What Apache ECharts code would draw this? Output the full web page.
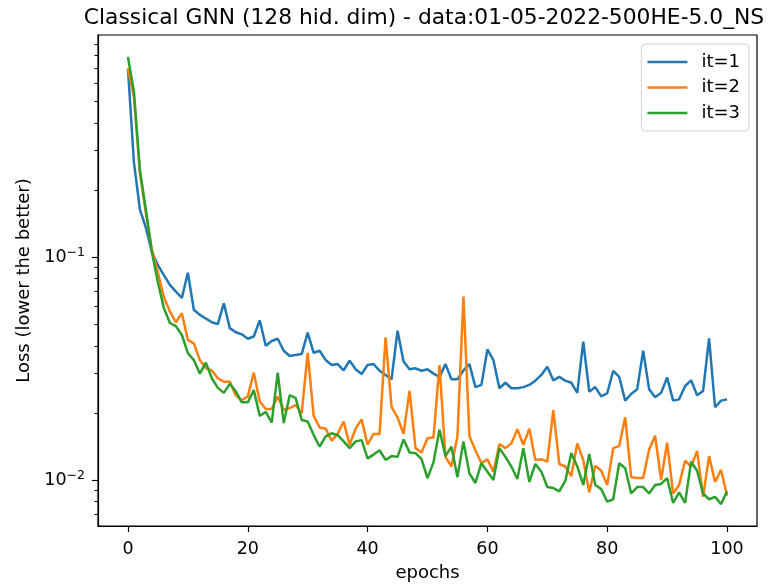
<!DOCTYPE html>
<html>
<head>
<meta charset="utf-8">
<script src="https://cdn.jsdelivr.net/npm/echarts@6/dist/echarts.min.js"></script>
<style>
html,body{margin:0;padding:0;background:#fff;}
#chart{width:778px;height:585px;}
</style>
</head>
<body>
<div id="chart"></div>
<script>
const epochs = Array.from({length:101},(_,i)=>i);
const seriesNames = ['it=1','it=2','it=3'];
const it1 = [0.70,0.265,0.163,0.135,0.105,0.092,0.083,0.075,0.070,0.0655,
0.085,0.058,0.055,0.053,0.051,0.050,0.062,0.048,0.046,0.045,
0.043,0.044,0.052,0.040,0.042,0.043,0.038,0.036,0.0364,0.0367,
0.0458,0.0372,0.038,0.0345,0.0328,0.0331,0.031,0.0343,0.0314,0.0299,
0.0328,0.0331,0.0309,0.0296,0.0283,0.0467,0.034,0.0314,0.0317,0.0309,
0.0314,0.030,0.029,0.0331,0.0283,0.0283,0.031,0.0331,0.0261,0.0267,
0.0385,0.0345,0.0258,0.0273,0.0258,0.0258,0.0261,0.0267,0.0279,0.0296,
0.0322,0.028,0.029,0.0279,0.0273,0.0246,0.0417,0.0249,0.0261,0.0237,
0.0245,0.0309,0.029,0.0227,0.0243,0.0255,0.038,0.0255,0.0235,0.0246,
0.0288,0.0227,0.023,0.0264,0.028,0.024,0.0251,0.0432,0.0212,0.0227,
0.023];
const it2 = [0.70,0.52,0.238,0.157,0.108,0.085,0.066,0.057,0.051,0.056,
0.0425,0.041,0.0345,0.0318,0.031,0.0286,0.0276,0.0276,0.024,0.0228,
0.0237,0.0303,0.0225,0.0208,0.0208,0.0237,0.0206,0.021,0.0217,0.0199,
0.0372,0.0194,0.0172,0.017,0.015,0.0161,0.0183,0.0144,0.017,0.0187,
0.0144,0.0161,0.0161,0.0436,0.0213,0.0191,0.0161,0.0251,0.0139,0.0133,
0.0154,0.0155,0.0328,0.0127,0.0115,0.0157,0.0664,0.0157,0.0136,0.0119,
0.0124,0.0109,0.0145,0.0139,0.0146,0.0169,0.0144,0.017,0.0123,0.0124,
0.0121,0.0206,0.0118,0.0115,0.0104,0.0146,0.0123,0.0088,0.0116,0.011,
0.0095,0.0139,0.0142,0.0191,0.0103,0.0102,0.0102,0.0137,0.0158,0.010,
0.0147,0.0087,0.0095,0.0122,0.0115,0.0135,0.0084,0.0128,0.0098,0.0111,
0.0085];
const it3 = [0.79,0.55,0.245,0.162,0.105,0.077,0.059,0.0506,0.049,0.0447,
0.0371,0.0345,0.030,0.0336,0.0286,0.0259,0.0246,0.027,0.025,0.0223,
0.0223,0.0253,0.0194,0.0202,0.0181,0.0303,0.018,0.024,0.0233,0.0186,
0.0183,0.0159,0.0141,0.0157,0.0162,0.0159,0.0149,0.0139,0.0149,0.0151,
0.0125,0.013,0.0136,0.0123,0.0128,0.0127,0.0152,0.0133,0.0132,0.0124,
0.0102,0.012,0.0168,0.0128,0.0141,0.0103,0.0149,0.0107,0.0097,0.0119,
0.0109,0.010,0.0139,0.0127,0.0115,0.0101,0.0139,0.0098,0.0118,0.0109,
0.0093,0.0092,0.0089,0.0099,0.0132,0.0115,0.0095,0.0131,0.0095,0.0091,
0.008,0.0082,0.0119,0.0113,0.0087,0.0093,0.0093,0.0087,0.0095,0.0096,
0.0102,0.0079,0.0088,0.0079,0.0121,0.011,0.0087,0.0082,0.0084,0.0078,
0.0089];
const xTicks = [0,20,40,60,80,100];
const yMajorTicks = [0.01,0.1];
const yMinorTicks = [0.007,0.008,0.009,0.02,0.03,0.04,0.05,0.06,0.07,0.08,0.09,0.2,0.3,0.4,0.5,0.6,0.7,0.8,0.9];
const colors = ['#1f77b4','#ff7f0e','#2ca02c'];
const FONT = 'DejaVu Sans';

const chart = echarts.init(document.getElementById('chart'), null, {renderer:'canvas'});
const mk = (name, arr, i) => ({
  name, type:'line', symbol:'none', xAxisIndex:0, yAxisIndex:0,
  data: epochs.map((e,k)=>[e, arr[k]]),
  lineStyle:{color:colors[i], width:2.5}, itemStyle:{color:colors[i]},
  animation:false
});
const yBase = {
  type:'log', logBase:10, min:0.00622, max:0.99, position:'left',
  splitLine:{show:false}
};
chart.setOption({
  animation:false,
  backgroundColor:'#fff',
  grid:{left:98, right:21, top:35, bottom:59, show:true, borderColor:'#000', borderWidth:1.2,
    containLabel:false, outerBoundsMode:'none'},
  xAxis:{
    type:'value', min:-5, max:105,
    axisLine:{show:true, onZero:false, lineStyle:{color:'#000', width:1.2}},
    axisTick:{show:true, inside:false, length:6, customValues:xTicks, lineStyle:{color:'#000', width:1.2}},
    axisLabel:{customValues:xTicks, margin:14, color:'#000', fontFamily:FONT, fontSize:17.5},
    splitLine:{show:false},
    name:'epochs', nameLocation:'middle', nameGap:38,
    nameTextStyle:{color:'#000', fontFamily:FONT, fontSize:18}
  },
  yAxis:[
    Object.assign({}, yBase, {
      axisLine:{show:true, onZero:false, lineStyle:{color:'#000', width:1.2}},
      axisTick:{show:true, inside:false, length:6, customValues:yMajorTicks, lineStyle:{color:'#000', width:1.2}},
      axisLabel:{customValues:yMajorTicks, margin:13, color:'#000',
        formatter:v => (Math.abs(v-0.1)<1e-9 ? '{b|10}{s|−1}' : '{b|10}{s|−2}'),
        rich:{b:{fontFamily:FONT, fontSize:17.5, color:'#000'}, s:{fontFamily:FONT, fontSize:12.5, color:'#000', padding:[0,0,9,0]}}},
      name:'Loss (lower the better)', nameLocation:'middle', nameGap:58, nameRotate:90,
      nameTextStyle:{color:'#000', fontFamily:FONT, fontSize:18}
    }),
    Object.assign({}, yBase, {
      axisLine:{show:false, onZero:false},
      axisTick:{show:true, inside:false, length:3.5, customValues:yMinorTicks, lineStyle:{color:'#000', width:1}},
      axisLabel:{show:false}
    })
  ],
  legend:{
    orient:'vertical', right:29, top:44,
    data:seriesNames,
    itemWidth:40, itemHeight:18, itemGap:7.5,
    backgroundColor:'#fff', borderColor:'#d0d0d0', borderWidth:1, borderRadius:4,
    padding:[9,9,9,6],
    textStyle:{color:'#000', fontFamily:FONT, fontSize:18, padding:[0,0,0,9]},
    icon:'path://M0,0 L40,0 L40,2.5 L0,2.5 Z'
  },
  graphic:[{
    type:'text', x:424, y:18,
    style:{text:'Classical GNN (128 hid. dim) - data:01-05-2022-500HE-5.0_NS', textAlign:'center', textVerticalAlign:'middle',
      font:'21.8px "DejaVu Sans"', fill:'#000'}
  }],
  series:[mk(seriesNames[0], it1, 0), mk(seriesNames[1], it2, 1), mk(seriesNames[2], it3, 2)]
});
</script>
</body>
</html>
